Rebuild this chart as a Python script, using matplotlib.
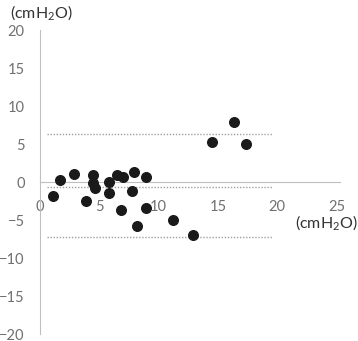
import matplotlib
matplotlib.use("Agg")
from matplotlib import pyplot as plt

# mean pressure vs difference (Bland-Altman style)
x_vals = [1.1, 1.7, 2.9, 4.5, 4.5, 4.6, 3.9, 5.8, 5.8, 6.8, 6.5, 7.0, 7.9,
          8.9, 7.8, 8.9, 8.2, 11.2, 16.4, 14.5, 17.4, 12.9]
y_vals = [-1.8, 0.3, 1.1, 0.9, -0.1, -0.8, -2.5, 0.0, -1.4, -3.7, 0.9, 0.7,
          1.3, 0.7, -1.2, -3.4, -5.8, -5.0, 7.9, 5.3, 5.0, -7.0]

line_x = [0.6, 19.6]
upper_loa = 6.3
mean_diff = -0.6
lower_loa = -7.3

x_ticks = [0, 5, 10, 15, 20, 25]
y_ticks = [-20, -15, -10, -5, 0, 5, 10, 15, 20]
unit = "(cmH$_2$O)"

plt.rcParams['font.family'] = ['Lato', 'DejaVu Sans']
plt.rcParams['mathtext.fontset'] = 'custom'
plt.rcParams['mathtext.rm'] = 'Lato'

fig = plt.figure(figsize=(3.58, 3.41), dpi=100)
ax = fig.add_axes([40 / 358, 7 / 341, 300 / 358, 304 / 341])

for level in [upper_loa, mean_diff, lower_loa]:
    ax.plot(line_x, [level, level], color='#a0a0a0', linestyle=(0, (1, 1.2)),
            linewidth=1.0, zorder=1)

ax.scatter(x_vals, y_vals, s=48, color='#1a1a1a', zorder=3)

ax.set_xlim(0, 25.3)
ax.set_ylim(-20, 20)
ax.set_xticks(x_ticks)
ax.set_yticks(y_ticks)

for s in ['top', 'right']:
    ax.spines[s].set_visible(False)
ax.spines['bottom'].set_position(('data', 0))
ax.spines['bottom'].set_color('#bfbfbf')
ax.spines['left'].set_color('#bfbfbf')
ax.spines['bottom'].set_zorder(0)

ax.tick_params(axis='x', length=0, pad=13, labelsize=10.5, labelcolor='#707070')
ax.tick_params(axis='y', length=0, pad=11, labelsize=10.5, labelcolor='#707070')

fig.text(41 / 358, 1 - 13 / 341, unit, ha='center', va='center', fontsize=11.5,
         color='#333333')
fig.text(326 / 358, 1 - 223 / 341, unit, ha='center', va='center', fontsize=11.5,
         color='#333333')

fig.savefig("out.png", dpi=100)
